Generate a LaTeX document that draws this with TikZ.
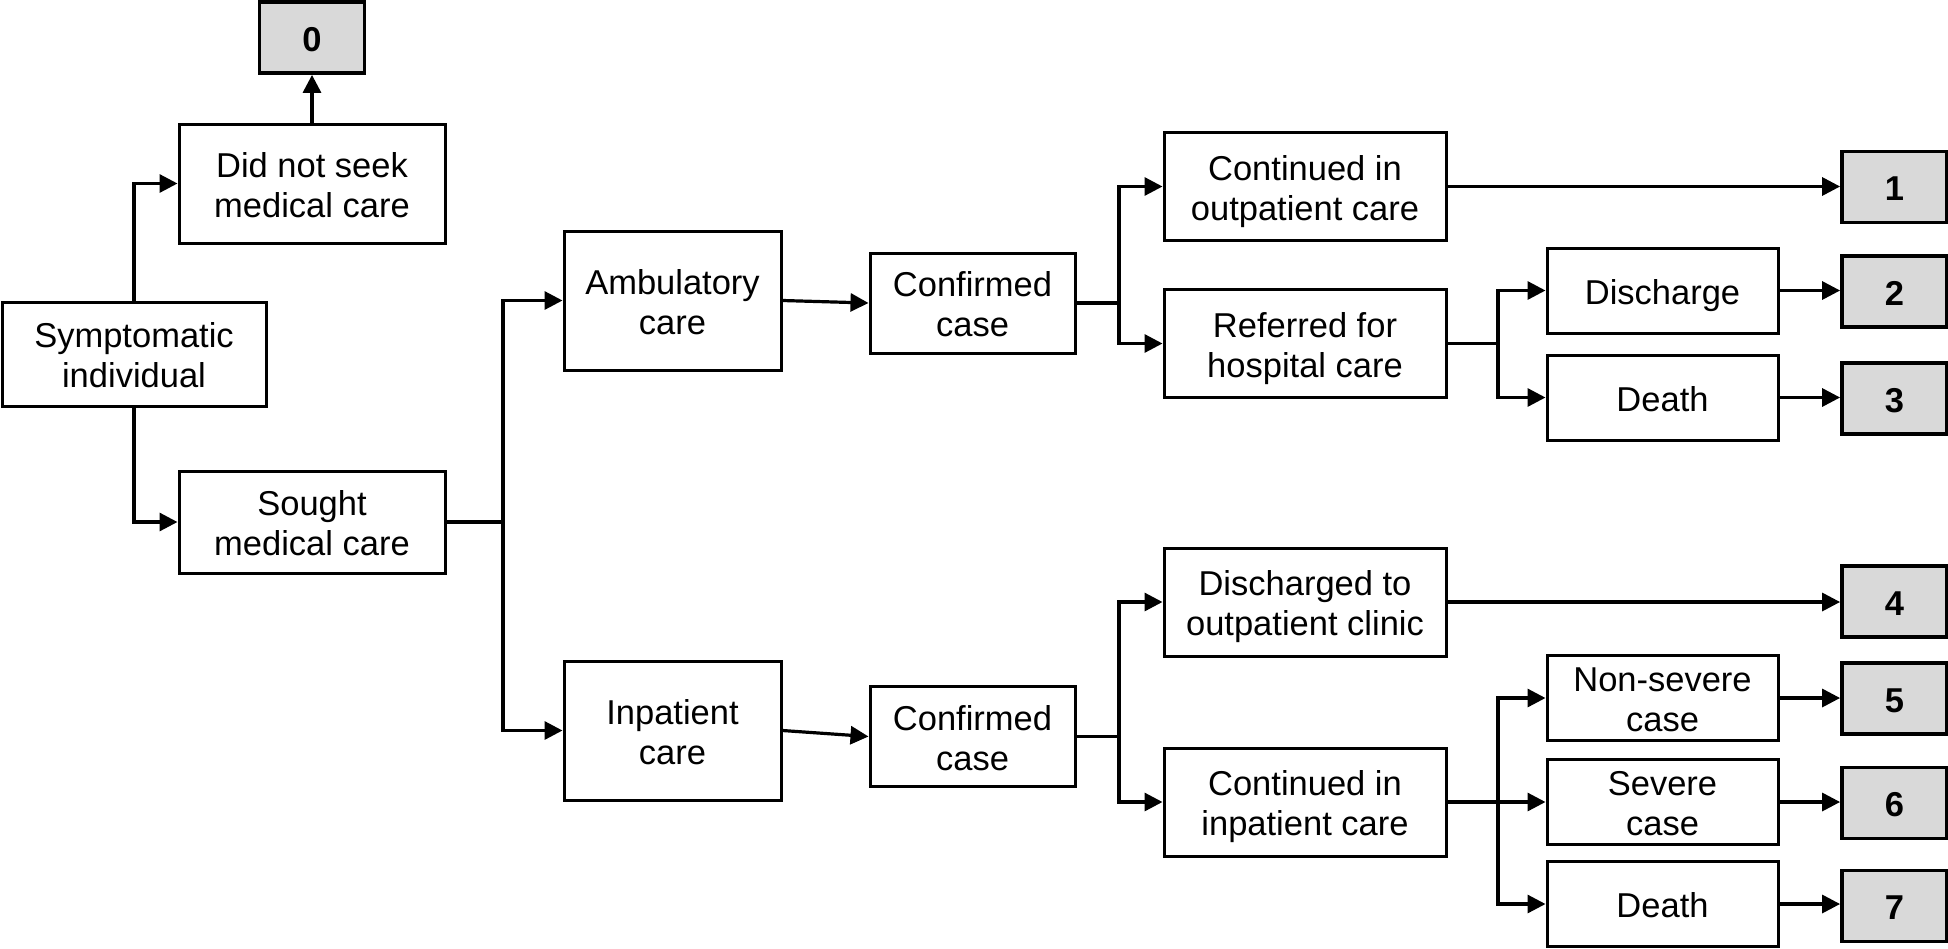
\documentclass[tikz,border=0pt]{standalone}
\usepackage{fontspec}
\setmainfont{Liberation Sans}
\usetikzlibrary{arrows.meta}
\newcommand\fsz{\fontsize{17.25pt}{20pt}\selectfont}
\newcommand\lbl[1]{\raisebox{-2.9pt}[\height][\depth]{\begin{tabular}{@{}c@{}}#1\end{tabular}}}
\definecolor{boxgrey}{HTML}{D9D9D9}
\begin{document}
\begin{tikzpicture}[x=0.5pt,y=-0.5pt,
  box/.style={draw, line width=1.5pt, fill=white, align=center, inner sep=0pt, font=\fsz},
  gbox/.style={draw, line width=1.9pt, fill=boxgrey, align=center, inner sep=0pt, font=\fsz\bfseries, minimum width=52.5pt, minimum height=35.5pt},
  midbox/.style={box, minimum width=141pt, minimum height=54pt},
  rbox/.style={box, minimum width=115.5pt, minimum height=42.5pt},
  conn/.style={line width=1.6pt, -{Triangle[length=9pt,width=9pt]}},
  plain/.style={line width=1.6pt}]
\useasboundingbox (0,0) rectangle (1948,948);
% boxes
\node[gbox] (b0) at (312,37.5) {\lbl{0}};
\node[box, minimum width=133pt, minimum height=59.5pt] (dns) at (312,183.5) {\lbl{Did not seek\\medical care}};
\node[box, minimum width=132pt, minimum height=52pt] (sym) at (134,354) {\lbl{Symptomatic\\individual}};
\node[box, minimum width=133pt, minimum height=51pt] (sought) at (312,522) {\lbl{Sought\\medical care}};
\node[box, minimum width=108.5pt, minimum height=69.5pt] (amb) at (672.5,300.5) {\lbl{Ambulatory\\care}};
\node[box, minimum width=108.5pt, minimum height=69.5pt] (inp) at (672.5,730.5) {\lbl{Inpatient\\care}};
\node[box, minimum width=102.5pt, minimum height=50pt] (conf1) at (972.5,303) {\lbl{Confirmed\\case}};
\node[box, minimum width=102.5pt, minimum height=50pt] (conf2) at (972.5,736.5) {\lbl{Confirmed\\case}};
\node[midbox] (cont1) at (1305,186.5) {\lbl{Continued in\\outpatient care}};
\node[midbox] (ref) at (1305,343.5) {\lbl{Referred for\\hospital care}};
\node[midbox] (disch) at (1305,602) {\lbl{Discharged to\\outpatient clinic}};
\node[midbox] (cont2) at (1305,802) {\lbl{Continued in\\inpatient care}};
\node[rbox] (dis) at (1662.5,290.5) {\lbl{Discharge}};
\node[rbox] (death1) at (1662.5,397.5) {\lbl{Death}};
\node[rbox] (nons) at (1662.5,698) {\lbl{Non-severe\\case}};
\node[rbox] (sev) at (1662.5,802) {\lbl{Severe\\case}};
\node[rbox] (death2) at (1662.5,904) {\lbl{Death}};
\node[gbox] (g1) at (1894.5,187) {\lbl{1}};
\node[gbox] (g2) at (1894.5,291.5) {\lbl{2}};
\node[gbox] (g3) at (1894.5,398.5) {\lbl{3}};
\node[gbox] (g4) at (1894.5,601.5) {\lbl{4}};
\node[gbox] (g5) at (1894.5,698.5) {\lbl{5}};
\node[gbox] (g6) at (1894.5,803) {\lbl{6}};
\node[gbox] (g7) at (1894.5,906) {\lbl{7}};
% junctions
\coordinate (j1) at (503,522);
\coordinate (j2) at (1119,303);
\coordinate (j3) at (1498,343.5);
\coordinate (j4) at (1119,736.5);
\coordinate (j5) at (1498,802);
% connectors
\draw[conn] (sym.north) |- (dns.west);
\draw[conn] (sym.south) |- (sought.west);
\draw[conn] (dns.north) -- (b0.south);
\draw[plain] (sought.east) -- (j1);
\draw[conn] (j1) |- (amb.west);
\draw[conn] (j1) |- (inp.west);
\draw[conn] (amb.east) -- (conf1.west);
\draw[conn] (inp.east) -- (conf2.west);
\draw[plain] (conf1.east) -- (j2);
\draw[conn] (j2) |- (cont1.west);
\draw[conn] (j2) |- (ref.west);
\draw[plain] (conf2.east) -- (j4);
\draw[conn] (j4) |- (disch.west);
\draw[conn] (j4) |- (cont2.west);
\draw[conn] (cont1.east) -- (cont1.east -| g1.west);
\draw[plain] (ref.east) -- (j3);
\draw[conn] (j3) |- (dis.west);
\draw[conn] (j3) |- (death1.west);
\draw[conn] (disch.east) -- (disch.east -| g4.west);
\draw[conn] (cont2.east) -- (sev.west);
\draw[conn] (j5) |- (nons.west);
\draw[conn] (j5) |- (death2.west);
\draw[conn] (dis.east) -- (dis.east -| g2.west);
\draw[conn] (death1.east) -- (death1.east -| g3.west);
\draw[conn] (nons.east) -- (nons.east -| g5.west);
\draw[conn] (sev.east) -- (sev.east -| g6.west);
\draw[conn] (death2.east) -- (death2.east -| g7.west);
\end{tikzpicture}
\end{document}
